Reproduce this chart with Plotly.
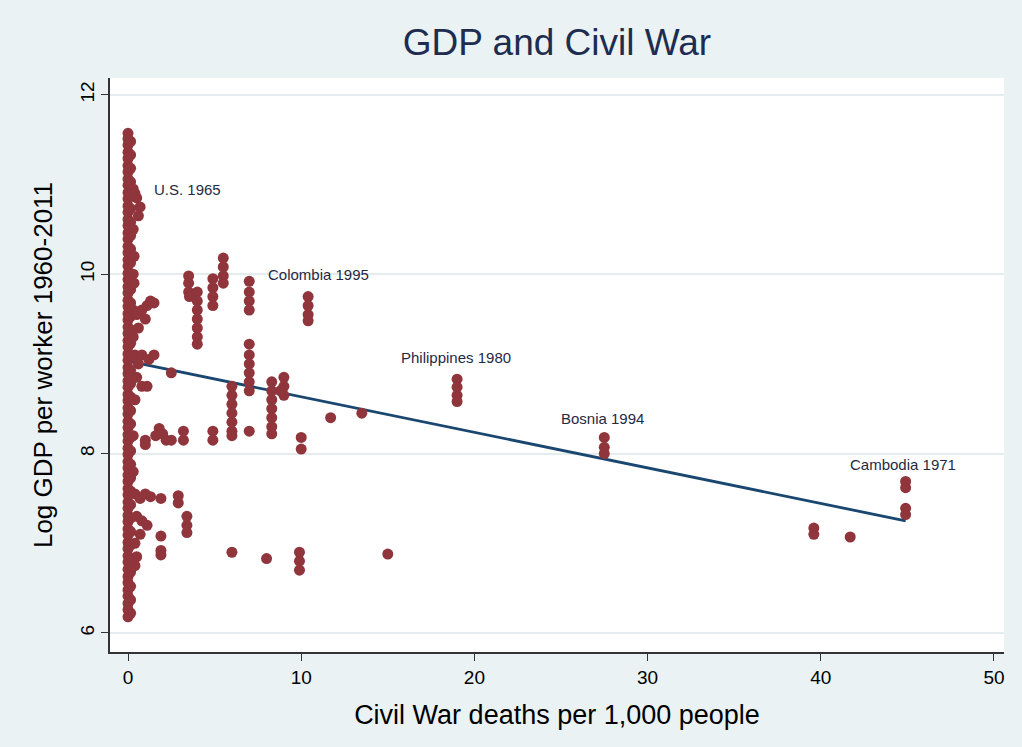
import plotly.graph_objects as go

# ---- data ----
# civil-war deaths per 1,000 people (x) and log GDP per worker (y)
col0_y = [6.18, 6.26, 6.33, 6.41, 6.48, 6.56, 6.63, 6.71, 6.79, 6.86, 6.94, 7.01,
          7.09, 7.16, 7.24, 7.31, 7.39, 7.46, 7.54, 7.61, 7.69, 7.76, 7.84, 7.91,
          7.99, 8.06, 8.14, 8.21, 8.29, 8.36, 8.44, 8.51, 8.59, 8.66, 8.74, 8.81,
          8.89, 8.96, 9.04, 9.11, 9.19, 9.26, 9.34, 9.41, 9.49, 9.56, 9.64, 9.71,
          9.79, 9.86, 9.94, 10.01, 10.09, 10.16, 10.24, 10.31, 10.39, 10.46, 10.54,
          10.61, 10.69, 10.76, 10.84, 10.91, 10.99, 11.06, 11.14, 11.21, 11.29,
          11.36, 11.44, 11.51, 11.57]
col1_y = [6.22, 6.37, 6.52, 6.68, 6.83, 6.98, 7.13, 7.28, 7.43, 7.58, 7.73, 7.88,
          8.03, 8.18, 8.33, 8.48, 8.63, 8.78, 8.93, 9.08, 9.23, 9.38, 9.53, 9.68,
          9.83, 9.98, 10.13, 10.28, 10.43, 10.58, 10.73, 10.88, 11.03, 11.18,
          11.33, 11.48]

other_x = [0.3, 0.5, 0.7, 0.6, 0.4, 0.3, 0.35, 0.3, 0.35, 0.3, 0.5, 0.8, 1.1, 1.3, 1.5,
           1.0, 0.6, 0.3, 0.4, 0.6, 0.8, 1.2, 1.5, 0.5, 0.8, 1.1, 0.4, 2.5,
           0.3, 1.0, 1.0, 1.6, 1.8, 2.0, 2.2, 2.5, 3.2, 3.2, 4.9, 4.9,
           0.3, 0.4, 0.7, 1.0, 1.3, 1.9, 2.9, 2.9, 3.4, 3.4, 3.4,
           0.5, 0.8, 1.1, 0.7, 0.4, 1.9, 1.9, 1.9, 0.5, 0.4,
           6.0, 8.0, 9.9, 9.9, 9.9, 15.0,
           3.5, 3.5, 3.5, 3.55, 4.0, 4.0, 4.0, 4.0, 4.0, 4.0, 4.0,
           4.9, 4.9, 4.9, 4.9, 5.5, 5.5, 5.5, 5.5,
           7.0, 7.0, 7.0, 7.0, 7.0, 7.0, 7.0, 7.0, 7.0, 7.0, 7.0,
           6.0, 6.0, 6.0, 6.0, 6.0, 6.0, 6.0,
           8.3, 8.3, 8.3, 8.3, 8.3, 8.3, 8.3, 9.0, 9.0, 9.0, 8.8,
           10.0, 10.0, 11.7, 13.5,
           10.4, 10.4, 10.4, 10.4,
           19.0, 19.0, 19.0, 19.0,
           27.5, 27.5, 27.5,
           39.6, 39.6, 41.7,
           44.9, 44.9, 44.9, 44.9]
other_y = [10.95, 10.85, 10.75, 10.65, 10.9, 10.5, 10.2, 10.0, 9.9, 9.6, 9.55, 9.6, 9.65, 9.7, 9.68,
           9.5, 9.4, 9.3, 9.1, 9.0, 9.1, 9.05, 9.1, 8.85, 8.75, 8.75, 8.6, 8.9,
           8.2, 8.15, 8.1, 8.2, 8.28, 8.22, 8.15, 8.15, 8.25, 8.15, 8.25, 8.15,
           7.8, 7.55, 7.5, 7.55, 7.52, 7.5, 7.53, 7.45, 7.3, 7.2, 7.12,
           7.3, 7.25, 7.2, 7.1, 7.0, 7.08, 6.92, 6.87, 6.85, 6.75,
           6.9, 6.83, 6.9, 6.8, 6.7, 6.88,
           9.98, 9.9, 9.8, 9.75, 9.8, 9.7, 9.6, 9.5, 9.4, 9.3, 9.22,
           9.95, 9.85, 9.75, 9.65, 10.18, 10.08, 9.98, 9.9,
           9.92, 9.8, 9.7, 9.6, 9.22, 9.1, 9.0, 8.9, 8.8, 8.7, 8.25,
           8.75, 8.65, 8.55, 8.45, 8.35, 8.25, 8.2,
           8.8, 8.7, 8.6, 8.5, 8.4, 8.3, 8.22, 8.85, 8.75, 8.65, 8.7,
           8.18, 8.05, 8.4, 8.45,
           9.75, 9.65, 9.55, 9.48,
           8.83, 8.74, 8.65, 8.58,
           8.18, 8.07, 8.0,
           7.17, 7.1, 7.07,
           7.69, 7.62, 7.39, 7.32]

deaths = [0.0] * len(col0_y) + [0.15] * len(col1_y) + other_x
log_gdp = col0_y + col1_y + other_y

# linear fit line endpoints
fit_x = [0.0, 44.9]
fit_y = [9.03, 7.25]

# labelled country-years (label centre positions)
lab_text = ["U.S. 1965", "Colombia 1995", "Philippines 1980", "Bosnia 1994", "Cambodia 1971"]
lab_x = [3.41, 10.97, 18.94, 27.4, 44.77]
lab_y = [10.94, 10.0, 9.07, 8.39, 7.88]

x_ticks = [0, 10, 20, 30, 40, 50]
y_ticks = [6, 8, 10, 12]

BG = "#eaf2f3"
FONT = "Liberation Sans, Arial, sans-serif"

fig = go.Figure()
fig.add_trace(go.Scatter(x=fit_x, y=fit_y, mode="lines",
                         line=dict(color="#1a476f", width=2.8),
                         hoverinfo="skip", showlegend=False))
fig.add_trace(go.Scatter(x=deaths, y=log_gdp, mode="markers",
                         marker=dict(size=11, color="#90353b", line=dict(width=0)),
                         showlegend=False))

for t, x, y in zip(lab_text, lab_x, lab_y):
    fig.add_annotation(x=x, y=y, text=t, showarrow=False, xanchor="center",
                       yanchor="middle", font=dict(size=15, color="#1f2a44", family=FONT))

fig.update_layout(
    width=1022, height=747,
    paper_bgcolor=BG, plot_bgcolor="white",
    margin=dict(l=110, r=18, t=78, b=95),
    font=dict(family=FONT, color="black"),
    title=dict(text="GDP and Civil War", xref="paper", x=0.5, xanchor="center",
               y=1 - 42 / 747, yanchor="middle",
               font=dict(size=37, color="#1e2d4f", family=FONT)),
    xaxis=dict(range=[-1.04, 50.58], tickvals=x_ticks, ticks="outside", ticklen=7,
               tickcolor="#333", showline=True, linecolor="#333", linewidth=1.5,
               showgrid=False, zeroline=False, tickfont=dict(size=19),
               title=dict(text="Civil War deaths per 1,000 people", font=dict(size=27),
                          standoff=19)),
    yaxis=dict(range=[5.788, 12.187], tickvals=y_ticks, ticks="outside", ticklen=7,
               tickcolor="#333", showline=True, linecolor="#333", linewidth=1.5,
               showgrid=True, gridcolor="#e4ecee", gridwidth=2, zeroline=False,
               tickangle=-90, tickfont=dict(size=19),
               title=dict(text="Log GDP per worker 1960-2011", font=dict(size=26),
                          standoff=17)),
)

fig.write_html("out.html")
